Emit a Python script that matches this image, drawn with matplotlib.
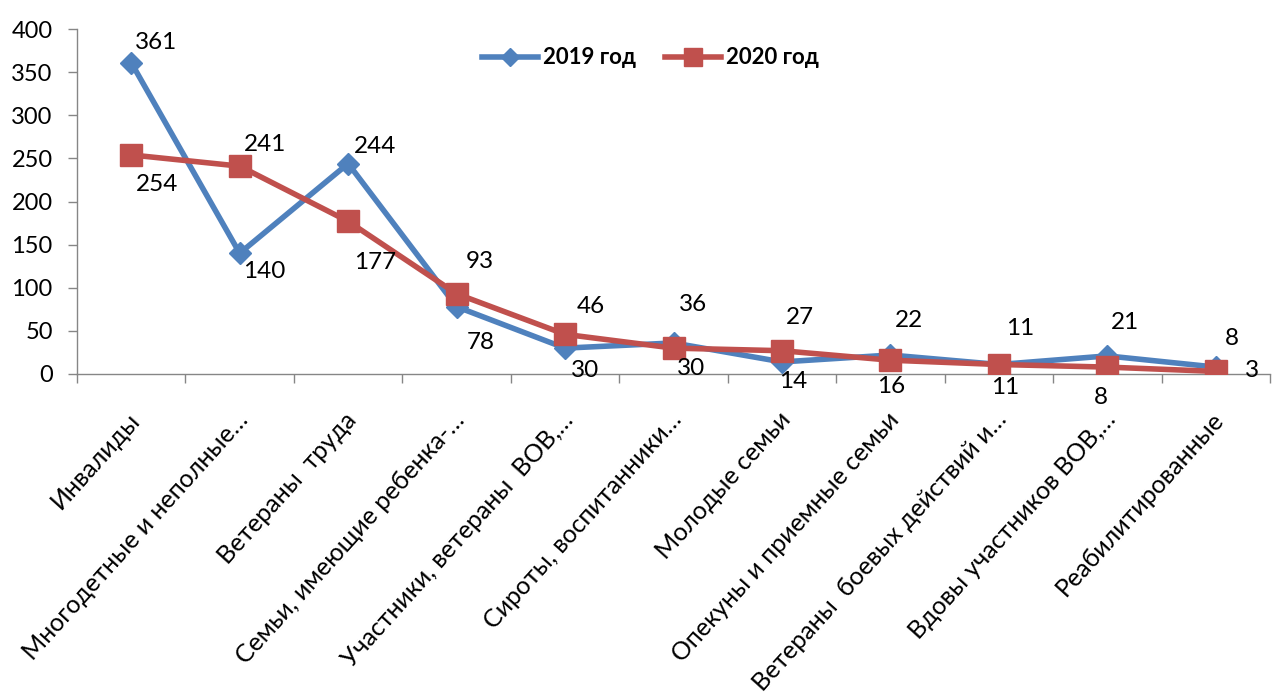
import matplotlib
matplotlib.use("Agg")
import matplotlib.pyplot as plt
from matplotlib.transforms import ScaledTranslation

plt.rcParams['font.family'] = ['Lato', 'DejaVu Sans']

categories = [
    "Инвалиды",
    "Многодетные и неполные…",
    "Ветераны  труда",
    "Семьи, имеющие ребенка-…",
    "Участники, ветераны  ВОВ,…",
    "Сироты, воспитанники…",
    "Молодые семьи",
    "Опекуны и приемные семьи",
    "Ветераны  боевых действий и…",
    "Вдовы участников ВОВ,…",
    "Реабилитированные",
]
values_2019 = [361, 140, 244, 78, 30, 36, 14, 22, 11, 21, 8]
values_2020 = [254, 241, 177, 93, 46, 30, 27, 16, 11, 8, 3]
series_names = ["2019 год", "2020 год"]
y_ticks = [0, 50, 100, 150, 200, 250, 300, 350, 400]

# label offsets in pixels (dx, dy up) - styling only
off_2019 = [(25, 20), (25, -18), (27, 17), (24, -36), (20, -22), (20, 38),
            (11, -20), (19, 35), (6, -23), (18, 33), (16, 29)]
off_2020 = [(26, -30), (25, 22), (27, -41), (23, 32), (26, 28), (18, -20),
            (18, 33), (1, -26), (21, 36), (-6, -30), (36, 1)]

blue = "#4F81BD"
red = "#C0504D"
grey = "#868686"

fig = plt.figure(figsize=(12.72, 6.99), dpi=100)
ax = fig.add_axes([77/1272, 1-374/699, (1270-77)/1272, (374-29)/699])

x = list(range(len(categories)))
ax.plot(x, values_2019, color=blue, lw=4, marker='D', markersize=11.5,
        label=series_names[0], zorder=3)
ax.plot(x, values_2020, color=red, lw=4, marker='s', markersize=16,
        label=series_names[1], zorder=4)

for xi, v, (dx, dy) in zip(x, values_2019, off_2019):
    ax.annotate(str(v), (xi, v), xytext=(dx, dy), textcoords='offset pixels',
                ha='center', va='center', fontsize=17.5, color='black', zorder=5)
for xi, v, (dx, dy) in zip(x, values_2020, off_2020):
    ax.annotate(str(v), (xi, v), xytext=(dx, dy), textcoords='offset pixels',
                ha='center', va='center', fontsize=17.5, color='black', zorder=5)

ax.set_xlim(-0.5, len(categories) - 0.5)
ax.set_ylim(0, 400)
ax.set_yticks(y_ticks)
ax.set_yticklabels([str(t) for t in y_ticks], fontsize=17)
ax.tick_params(axis='y', direction='out', length=6.5, color=grey, width=1, pad=11)

ax.set_xticks(x)
ax.set_xticklabels(categories, rotation=48, ha='right', va='center',
                   rotation_mode='anchor', fontsize=18)
ax.set_xticks([i - 0.5 for i in range(len(categories) + 1)], minor=True)
ax.tick_params(axis='x', which='major', length=0, pad=30)
ax.tick_params(axis='x', which='minor', direction='out', length=6.5, color=grey, width=1)
shift = ScaledTranslation(4/100, 0, fig.dpi_scale_trans)
for lab in ax.get_xticklabels():
    lab.set_transform(lab.get_transform() + shift)

for s in ['top', 'right']:
    ax.spines[s].set_visible(False)
for s in ['left', 'bottom']:
    ax.spines[s].set_color(grey)
    ax.spines[s].set_linewidth(1)

leg = ax.legend(loc='center', bbox_to_anchor=(0.481, 0.916), ncol=2, frameon=False,
                prop={'weight': 'bold', 'size': 16}, handlelength=2.5,
                handletextpad=0.25, columnspacing=1.3, markerscale=0.8)

fig.savefig("out.png", dpi=100)
